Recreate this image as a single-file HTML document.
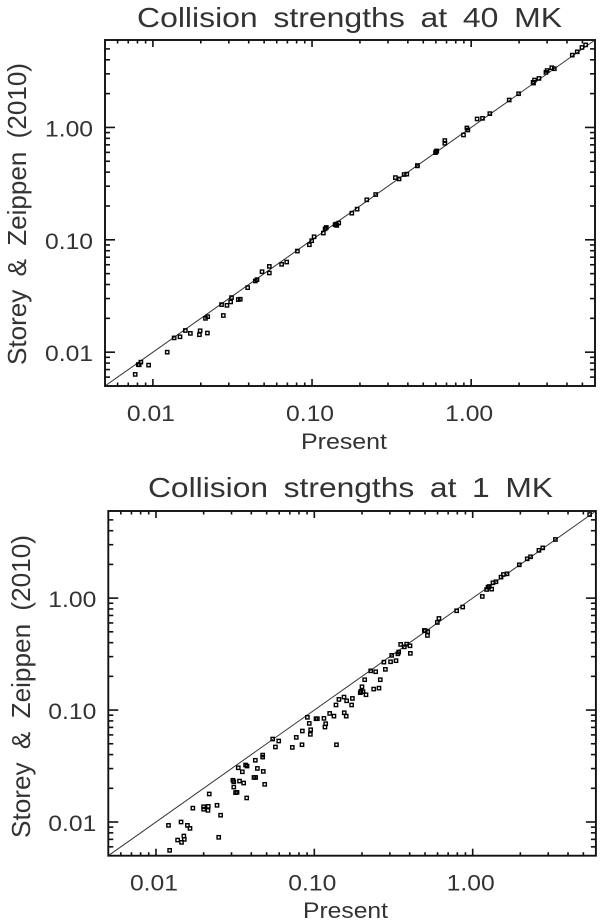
<!DOCTYPE html>
<html lang="en">
<head>
<meta charset="utf-8">
<title>Collision strengths comparison</title>
<style>
html,body{margin:0;padding:0;background:#fff;}
svg{display:block;}
text{font-family:"Liberation Sans",sans-serif;fill:#333;}
.spaced{word-spacing:6px;}
</style>
</head>
<body>
<svg id="figure" xmlns="http://www.w3.org/2000/svg" width="600" height="921" viewBox="0 0 600 921">
  <rect x="0" y="0" width="600" height="921" fill="#fff"/>
  <g id="panel-top">
    <text class="spaced" x="137" y="27" font-size="28" textLength="425" lengthAdjust="spacingAndGlyphs">Collision strengths at 40 MK</text>
    <text x="301" y="449" font-size="22" textLength="86" lengthAdjust="spacingAndGlyphs">Present</text>
    <text class="spaced" transform="translate(26,365) rotate(-90)" font-size="26" textLength="302" lengthAdjust="spacingAndGlyphs">Storey &amp; Zeippen (2010)</text>
  </g>
  <g id="panel-bottom">
    <text class="spaced" x="148" y="497" font-size="28" textLength="405" lengthAdjust="spacingAndGlyphs">Collision strengths at 1 MK</text>
    <text x="303" y="918" font-size="22" textLength="85" lengthAdjust="spacingAndGlyphs">Present</text>
    <text class="spaced" transform="translate(30,838) rotate(-90)" font-size="26" textLength="303" lengthAdjust="spacingAndGlyphs">Storey &amp; Zeippen (2010)</text>
  </g>
</svg>
<script>
const tickValues = [0.01, 0.1, 1];
const tickLabels = ["0.01", "0.10", "1.00"];
const axisMin = 0.005;
const axisMax = 6;
const identityLine = [0.005, 6];

const present40 = [0.00774,0.00809,0.0082,0.0084,0.0094,0.0123,0.0136,0.0148,0.016,0.0172,0.0196,0.0198,0.022,0.0214,0.0221,0.027,0.0277,0.0292,0.0308,0.0312,0.0344,0.0354,0.0394,0.044,0.0451,0.0485,0.0539,0.0539,0.0644,0.0693,0.0809,0.0962,0.0995,0.103,0.1178,0.1208,0.123,0.1396,0.143,0.1416,0.1472,0.1778,0.192,0.2208,0.2512,0.334,0.3524,0.379,0.394,0.459,0.459,0.6026,0.608,0.597,0.683,0.683,0.895,0.94,0.953,1.09,1.178,1.31,1.734,1.986,2.466,2.45,2.5,2.667,2.95,3.0,3.21,3.33,4.32,4.64,4.97,5.24];
const storey40 = [0.00634,0.00776,0.00772,0.00815,0.00767,0.01,0.0134,0.0137,0.0156,0.0147,0.0143,0.0155,0.0148,0.02,0.0207,0.0265,0.0212,0.0261,0.028,0.0306,0.0294,0.0296,0.0375,0.043,0.0442,0.052,0.058,0.0507,0.0605,0.0634,0.0794,0.0904,0.0982,0.1064,0.1148,0.1253,0.1288,0.1361,0.1343,0.138,0.141,0.1726,0.1875,0.227,0.2529,0.358,0.3483,0.381,0.384,0.458,0.455,0.61,0.618,0.597,0.764,0.723,0.857,0.989,0.949,1.19,1.205,1.327,1.754,1.995,2.483,2.52,2.642,2.73,3.09,3.21,3.4,3.33,4.4,4.71,5.15,5.43];

const present1 = [0.012,0.0122,0.0144,0.0137,0.0145,0.015,0.0151,0.0158,0.0164,0.0171,0.02,0.02,0.0214,0.0213,0.0217,0.0243,0.0256,0.0249,0.0306,0.031,0.031,0.0318,0.0325,0.0331,0.0337,0.0351,0.0358,0.0368,0.0376,0.0374,0.0424,0.0416,0.0426,0.0437,0.0472,0.0472,0.0476,0.0486,0.0546,0.0568,0.0596,0.0726,0.0769,0.0836,0.084,0.0904,0.0929,0.0948,0.0944,0.1025,0.1045,0.115,0.118,0.1167,0.125,0.133,0.138,0.137,0.143,0.154,0.1545,0.159,0.16,0.172,0.174,0.195,0.197,0.203,0.2,0.212,0.208,0.227,0.244,0.237,0.256,0.261,0.275,0.281,0.303,0.308,0.328,0.337,0.341,0.351,0.37,0.383,0.402,0.404,0.495,0.502,0.52,0.518,0.598,0.612,0.792,0.865,1.15,1.225,1.25,1.274,1.318,1.343,1.403,1.51,1.563,1.648,1.97,2.21,2.32,2.62,2.77,3.33,5.48];
const storey1 = [0.00933,0.00558,0.01,0.0069,0.00658,0.0075,0.007,0.00933,0.00877,0.0133,0.013,0.0137,0.0138,0.0127,0.0178,0.0141,0.0115,0.0073,0.0236,0.0229,0.0205,0.0183,0.0184,0.0305,0.0232,0.0281,0.0223,0.0323,0.0316,0.0164,0.0356,0.025,0.025,0.0301,0.0396,0.038,0.0283,0.0217,0.0551,0.0468,0.0529,0.0464,0.057,0.049,0.065,0.0861,0.076,0.0667,0.0607,0.0837,0.0837,0.0843,0.0755,0.0705,0.0933,0.0883,0.049,0.111,0.1245,0.1306,0.0946,0.0883,0.121,0.111,0.127,0.143,0.147,0.146,0.1615,0.137,0.1866,0.224,0.22,0.154,0.157,0.1866,0.268,0.231,0.27,0.308,0.276,0.318,0.33,0.386,0.367,0.388,0.375,0.321,0.514,0.511,0.5,0.464,0.606,0.658,0.771,0.832,1.035,1.194,1.253,1.27,1.203,1.37,1.4,1.54,1.626,1.648,1.984,2.244,2.34,2.67,2.81,3.34,5.58];

const SVG_NS = "http://www.w3.org/2000/svg";

function make(parent, tag, attrs) {
  const node = document.createElementNS(SVG_NS, tag);
  for (const key in attrs) node.setAttribute(key, attrs[key]);
  parent.appendChild(node);
  return node;
}

function drawPanel(parent, box, xs, ys) {
  const scaleX = v => box.left + (Math.log10(v) - Math.log10(axisMin)) / (Math.log10(axisMax) - Math.log10(axisMin)) * (box.right - box.left);
  const scaleY = v => box.bottom - (Math.log10(v) - Math.log10(axisMin)) / (Math.log10(axisMax) - Math.log10(axisMin)) * (box.bottom - box.top);

  const ink = "#111";
  const tickList = [];
  for (let e = -3; e <= 0; e++) {
    for (let m = 1; m <= 9; m++) {
      const v = m * Math.pow(10, e);
      if (v > axisMin * 1.001 && v < axisMax * 0.999) tickList.push({ v: v, major: m === 1 && e > -3 });
    }
  }

  tickList.forEach(t => {
    const lenX = t.major ? 7 : 3.5;
    const lenY = t.major ? 10 : 5;
    const px = scaleX(t.v);
    const py = scaleY(t.v);
    const w = 1.6;

    const bottomTick = make(parent, "line", { x1: px, x2: px, y1: box.bottom, y2: box.bottom - lenX, stroke: ink, "stroke-width": w });
    
    

    const topTick = make(parent, "line", { x1: px, x2: px, y1: box.top, y2: box.top + lenX, stroke: ink, "stroke-width": w });
    
    

    const leftTick = make(parent, "line", { x1: box.left, x2: box.left + lenY, y1: py, y2: py, stroke: ink, "stroke-width": w });
    
    

    const rightTick = make(parent, "line", { x1: box.right, x2: box.right - lenY, y1: py, y2: py, stroke: ink, "stroke-width": w });
    
    
  });

  tickValues.forEach((v, i) => {
    const xLabel = make(parent, "text", { x: scaleX(v) - 26, y: box.bottom + 35, "font-size": 22, textLength: 48, lengthAdjust: "spacingAndGlyphs" });
    xLabel.textContent = tickLabels[i];
    
    

    const yLabel = make(parent, "text", { x: box.left - 60, y: scaleY(v) + 9, "font-size": 22, textLength: 48, lengthAdjust: "spacingAndGlyphs" });
    yLabel.textContent = tickLabels[i];
    
    
  });

  const identity = make(parent, "line", {
    x1: scaleX(identityLine[0]), y1: scaleY(identityLine[0]),
    x2: scaleX(identityLine[1]), y2: scaleY(identityLine[1]),
    stroke: "#333", "stroke-width": 1
  });
  
  

  xs.forEach((xv, i) => {
    const s = 3.3;
    const marker = make(parent, "rect", {
      x: scaleX(xv) - s / 2, y: scaleY(ys[i]) - s / 2, width: s, height: s,
      fill: "none", stroke: "#000", "stroke-width": 1.4
    });
    
    
  });

  const frame = make(parent, "rect", {
    x: box.left, y: box.top, width: box.right - box.left, height: box.bottom - box.top,
    fill: "none", stroke: ink, "stroke-width": 1.9
  });
  
  
}

drawPanel(document.getElementById("panel-top"), { left: 105, right: 595, top: 40, bottom: 386 }, present40, storey40);
drawPanel(document.getElementById("panel-bottom"), { left: 108.3, right: 595.9, top: 511, bottom: 855.7 }, present1, storey1);
</script>
</body>
</html>
